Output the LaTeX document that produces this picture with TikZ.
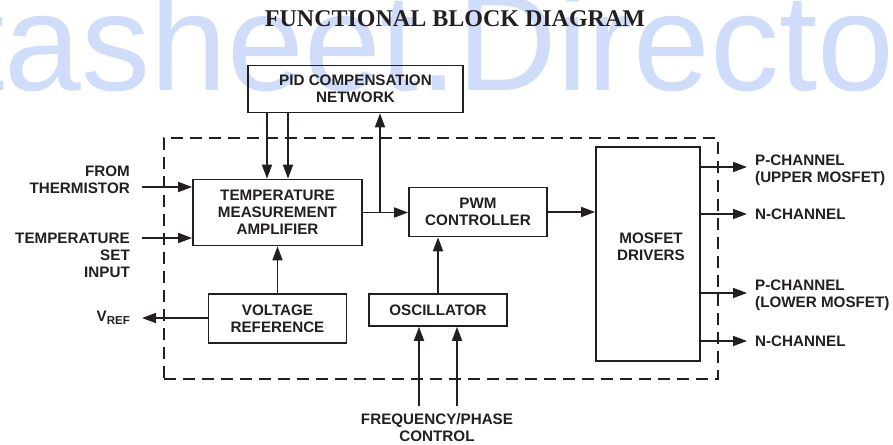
\documentclass[tikz,border=0pt]{standalone}
\usepackage{fontspec}
\setsansfont{Liberation Sans}
\newfontfamily\headfont{Liberation Serif}
\usetikzlibrary{arrows.meta}
\definecolor{inkColor}{RGB}{35,31,32}
\definecolor{markColor}{RGB}{208,221,250}

\begin{document}
\begin{tikzpicture}[x = 1pt, y = -1pt, font=\sffamily\bfseries\fontsize{15.2}{17}\selectfont, text = inkColor]
	\tikzstyle{blockStyle} = [draw = inkColor, line width = 1.7pt, align = center, inner sep = 0pt]
	\tikzstyle{labelStyle} = [inner sep = 0pt]
	\tikzstyle{wireStyle} = [draw = inkColor, line width = 1.7pt]
	\tikzstyle{arrowStyle} = [wireStyle, -{Triangle[length = 14pt, width = 10pt]}]
	\tikzstyle{borderStyle} = [draw = inkColor, line width = 1.7pt, dash pattern = on 12pt off 7pt, inner sep = 0pt]
	\useasboundingbox (0,0) rectangle (893,444);
	\node[anchor = base west, inner sep = 0pt, text = markColor, font = \sffamily\mdseries\fontsize{138}{138}\selectfont] (mark) at (-210,90) {Datasheet.Directory};
	\node[anchor = base, inner sep = 0pt, font = \headfont\bfseries\fontsize{24}{24}\selectfont] (title) at (455,27) {FUNCTIONAL BLOCK DIAGRAM};
	\node[borderStyle, minimum width = 554, minimum height = 241] (core) at (441,258.5) {};
	\node[blockStyle, minimum width = 215, minimum height = 47] (pid) at (355.5,89) {PID COMPENSATION\\NETWORK};
	\node[blockStyle, minimum width = 169, minimum height = 66] (tma) at (277.5,212.5) {TEMPERATURE\\MEASUREMENT\\AMPLIFIER};
	\node[blockStyle, minimum width = 138, minimum height = 49] (vref) at (277.5,318.5) {VOLTAGE\\REFERENCE};
	\node[blockStyle, minimum width = 138, minimum height = 49] (pwm) at (478,212) {PWM\\CONTROLLER};
	\node[blockStyle, minimum width = 138, minimum height = 32] (osc) at (438,310) {OSCILLATOR};
	\node[blockStyle, minimum width = 104, minimum height = 214] (mos) at (648,254) {};
	\node[labelStyle, align = center] (mosText) at (651,247) {MOSFET\\DRIVERS};
	\node[labelStyle, anchor = east, align = right] (thermLabel) at (130,180) {FROM\\THERMISTOR};
	\node[labelStyle, anchor = east, align = right] (setLabel) at (130,255) {TEMPERATURE\\SET\\INPUT};
	\node[labelStyle, anchor = east] (vrefLabel) at (130,318) {V\raisebox{-3pt}{\fontsize{11.5}{12}\selectfont REF}};
	\node[labelStyle, anchor = west, align = left] (pUpLabel) at (755,170) {P-CHANNEL\\(UPPER MOSFET)};
	\node[labelStyle, anchor = west] (nUpLabel) at (755,214) {N-CHANNEL};
	\node[labelStyle, anchor = west, align = left] (pLowLabel) at (755,295) {P-CHANNEL\\(LOWER MOSFET)};
	\node[labelStyle, anchor = west] (nLowLabel) at (755,341) {N-CHANNEL};
	\node[labelStyle, align = center] (freqLabel) at (437,428) {FREQUENCY/PHASE\\CONTROL};
	\coordinate (thermIn) at (142,187);
	\coordinate (setIn) at (142,238);
	\coordinate (vrefOut) at (142,318);
	\coordinate (pidTapA) at (267,0);
	\coordinate (pidTapB) at (288,0);
	\coordinate (pidTapC) at (380,0);
	\coordinate (freqA) at (419,406);
	\coordinate (freqB) at (457,406);
	\draw[arrowStyle] (thermIn) -- (tma.west |- thermIn);
	\draw[arrowStyle] (setIn) -- (tma.west |- setIn);
	\draw[arrowStyle] (vref.west |- vrefOut) -- (vrefOut);
	\draw[arrowStyle] (vref.north) -- (tma.south);
	\draw[arrowStyle] (pid.south -| pidTapA) -- (tma.north -| pidTapA);
	\draw[arrowStyle] (pid.south -| pidTapB) -- (tma.north -| pidTapB);
	\draw[arrowStyle] (tma.east) -- (pwm.west |- tma.east);
	\draw[arrowStyle] (tma.east -| pidTapC) -- (pid.south -| pidTapC);
	\draw[arrowStyle] (osc.north) -- (osc.north |- pwm.south);
	\draw[arrowStyle] (pwm.east) -- (mos.west |- pwm.east);
	\foreach \name/\yy in {pUp/167, nUp/214, pLow/293, nLow/341}
	{
		\coordinate (\name) at (747,\yy);
		\draw[arrowStyle] (mos.east |- \name) -- (\name);
	}
	\draw[arrowStyle] (freqA) -- (osc.south -| freqA);
	\draw[arrowStyle] (freqB) -- (osc.south -| freqB);
\end{tikzpicture}
\end{document}
